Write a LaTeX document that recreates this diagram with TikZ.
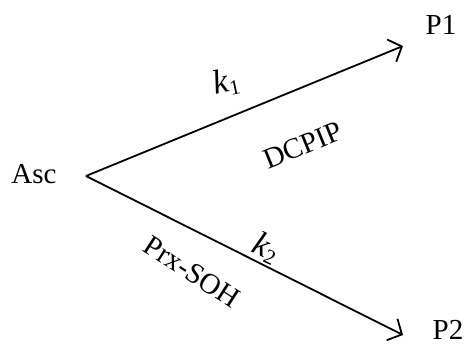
\documentclass[tikz,border=0pt]{standalone}
\usepackage{fontspec}
\setmainfont{Liberation Serif}
\usetikzlibrary{arrows.meta}
\newcommand{\kk}[1]{\textit{k}\kern-0.5pt\raisebox{-0.12em}{\fontsize{21}{23}\selectfont #1}}
\begin{document}
\begin{tikzpicture}[x=1pt,y=1pt,
  lbl/.style={inner sep=0pt,font=\fontsize{29}{32}\selectfont},
  klbl/.style={inner sep=0pt,font=\fontsize{34}{36}\selectfont},
  arr/.style={line width=1.8pt,-{Straight Barb[length=11pt,width=24pt,line width=1.8pt]}}]
\useasboundingbox (0,0) rectangle (467,346);
\node[lbl] (asc) at (34,172) {Asc};
\coordinate (v) at (86,170);
\coordinate (t1) at (403,300);
\coordinate (t2) at (403,11);
\node[lbl] (p1) at (441,321) {P1};
\node[lbl] (p2) at (448,16) {P2};
\draw[arr] (v) -- (t1);
\draw[arr] (v) -- (t2);
\node[klbl,rotate=12] (k1) at (226,264) {\kk{1}};
\node[lbl,rotate=22] (dc) at (303,201) {DCPIP};
\node[klbl,rotate=-25] (k2) at (266,98) {\kk{2}};
\node[lbl,rotate=-33] (prx) at (192,74) {Prx-SOH};
\end{tikzpicture}
\end{document}
